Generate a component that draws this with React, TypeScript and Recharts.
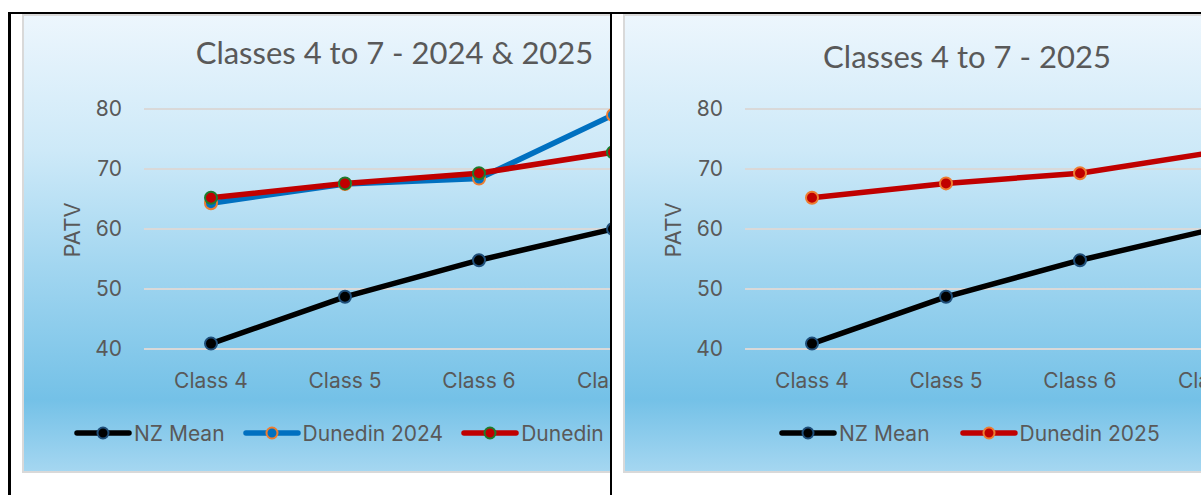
import React from 'react';
import { LineChart, Line, XAxis, YAxis, CartesianGrid, Legend } from 'recharts';

const categories = ['Class 4', 'Class 5', 'Class 6', 'Class 7'];
const nzMean = [40.9, 48.7, 54.8, 60.0];
const dunedin2024 = [64.3, 67.5, 68.4, 79.0];
const dunedin2025 = [65.2, 67.6, 69.3, 72.8];
const yTicks = [40, 50, 60, 70, 80];

const data = categories.map((c, i) => ({
  name: c,
  nz: nzMean[i],
  d24: dunedin2024[i],
  d25: dunedin2025[i],
}));

type S = { key: string; name: string; color: string; marker: string };

const leftSeries: S[] = [
  { key: 'nz', name: 'NZ Mean', color: '#000000', marker: '#1f4e79' },
  { key: 'd24', name: 'Dunedin 2024', color: '#0070c0', marker: '#ed7d31' },
  { key: 'd25', name: 'Dunedin 2025', color: '#c00000', marker: '#1e7b2e' },
];
const rightSeries: S[] = [
  { key: 'nz', name: 'NZ Mean', color: '#000000', marker: '#1f4e79' },
  { key: 'd25', name: 'Dunedin 2025', color: '#c00000', marker: '#ed7d31' },
];

const TEXT = '#595959';
const TICK_FONT = 'Inter, "Noto Sans", sans-serif';
const TITLE_FONT = 'Lato, "Open Sans", sans-serif';
const FS = 21;
const GRAD =
  'linear-gradient(to bottom, #edf6fd 0%, #cde9f8 30%, #a2d6f0 55%, #74c1e7 84%, #a6d7f1 100%)';

function LegendRow({ series, gap }: { series: S[]; gap: number }) {
  return (
    <div style={{ display: 'flex', alignItems: 'center', gap, height: 28 }}>
      {series.map((s) => (
        <div key={s.key} style={{ display: 'flex', alignItems: 'center' }}>
          <svg width={58} height={16}>
            <line x1={3} y1={8} x2={55} y2={8} stroke={s.color} strokeWidth={5.5} strokeLinecap="round" />
            <circle cx={29} cy={8} r={5.5} fill={s.color} stroke={s.marker} strokeWidth={2} />
          </svg>
          <span
            style={{
              marginLeft: 2,
              fontFamily: TICK_FONT,
              fontSize: FS,
              color: TEXT,
              whiteSpace: 'nowrap',
            }}
          >
            {s.name}
          </span>
        </div>
      ))}
    </div>
  );
}

function Panel(props: {
  left: number;
  width: number;
  series: S[];
  title: string;
  titleCenter: number;
  titleTop: number;
  legendLeft: number;
  legendGap: number;
}) {
  const { left, width, series, title, titleCenter, titleTop, legendLeft, legendGap } = props;
  return (
    <div
      style={{
        position: 'absolute',
        left,
        top: 14,
        width,
        height: 459,
        overflow: 'hidden',
        background: GRAD,
        boxShadow: 'inset 0 0 0 2px #d9d9d9',
      }}
    >
      <div
        style={{
          position: 'absolute',
          left: titleCenter - 300,
          width: 600,
          top: titleTop,
          textAlign: 'center',
          fontFamily: TITLE_FONT,
          fontSize: 31,
          lineHeight: '40px',
          color: TEXT,
          whiteSpace: 'nowrap',
        }}
      >
        {title}
      </div>
      <div
        style={{
          position: 'absolute',
          left: 50 - 40,
          top: 216 - 14,
          width: 80,
          height: 28,
          lineHeight: '28px',
          textAlign: 'center',
          transform: 'rotate(-90deg)',
          fontFamily: TICK_FONT,
          fontSize: 22,
          color: TEXT,
        }}
      >
        PATV
      </div>
      <LineChart
        width={760}
        height={459}
        data={data}
        margin={{ top: 95, right: 102, left: 62, bottom: 94 }}
      >
        <CartesianGrid horizontal vertical={false} stroke="#d9d9d9" strokeWidth={2} />
        <XAxis
          dataKey="name"
          interval={0}
          height={30}
          axisLine={{ stroke: '#d9d9d9', strokeWidth: 2 }}
          tickLine={false}
          tickSize={0}
          tickMargin={24}
          padding={{ left: 67, right: 67 }}
          tick={{ fill: TEXT, fontSize: FS, fontFamily: TICK_FONT }}
        />
        <YAxis
          domain={[40, 80]}
          ticks={yTicks}
          width={60}
          axisLine={false}
          tickLine={false}
          tickSize={0}
          tickMargin={22}
          tick={{ fill: TEXT, fontSize: FS, fontFamily: TICK_FONT }}
        />
        <Legend
          layout="horizontal"
          verticalAlign="middle"
          align="center"
          wrapperStyle={{ left: legendLeft, top: 433 - 14 - 14, width: 700, height: 28 }}
          content={() => <LegendRow series={series} gap={legendGap} />}
        />
        {series.map((s) => (
          <Line
            key={s.key}
            type="linear"
            dataKey={s.key}
            name={s.name}
            stroke={s.color}
            strokeWidth={5.5}
            dot={{ r: 6, fill: s.color, stroke: s.marker, strokeWidth: 2 }}
            activeDot={false}
            isAnimationActive={false}
          />
        ))}
      </LineChart>
    </div>
  );
}

export default function App() {
  return (
    <div
      style={{
        position: 'absolute',
        left: 0,
        top: 0,
        width: 1201,
        height: 495,
        overflow: 'hidden',
        background: '#ffffff',
      }}
    >
      <Panel
        left={22}
        width={590}
        series={leftSeries}
        title="Classes 4 to 7 - 2024 & 2025"
        titleCenter={372.5}
        titleTop={18}
        legendLeft={52}
        legendGap={18}
      />
      <Panel
        left={623}
        width={600}
        series={rightSeries}
        title="Classes 4 to 7 - 2025"
        titleCenter={344}
        titleTop={22}
        legendLeft={156}
        legendGap={30}
      />
      <div style={{ position: 'absolute', left: 8, top: 12, width: 1193, height: 2, background: '#000' }} />
      <div style={{ position: 'absolute', left: 8, top: 12, width: 3, height: 483, background: '#000' }} />
      <div style={{ position: 'absolute', left: 610, top: 12, width: 2, height: 483, background: '#000' }} />
    </div>
  );
}
